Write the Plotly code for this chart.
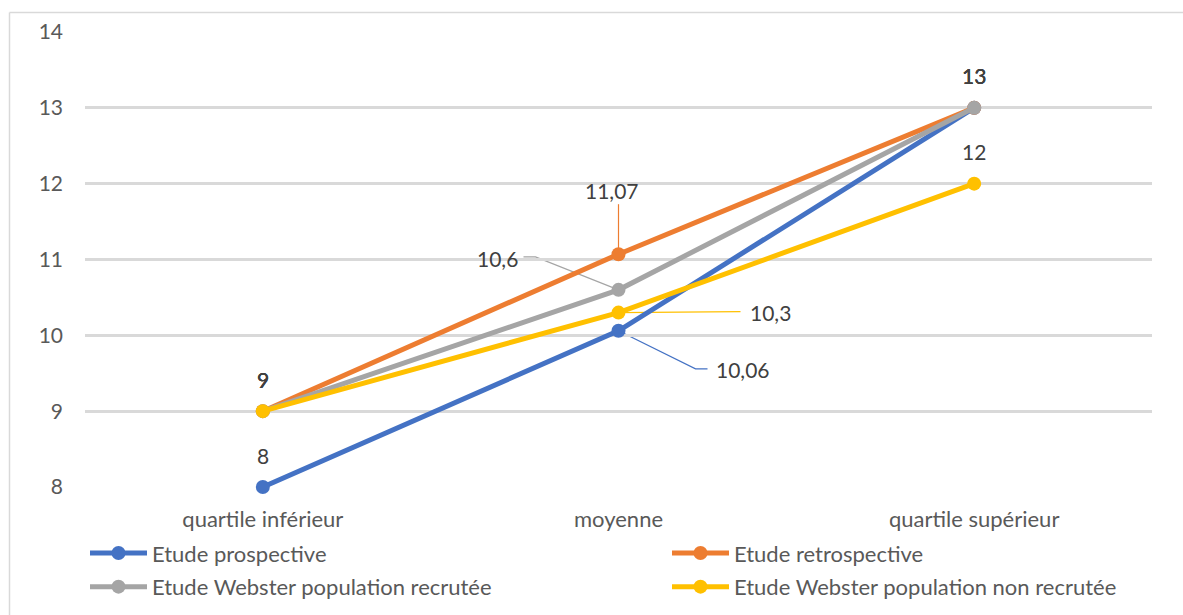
import plotly.graph_objects as go

# Categories and series values
categories = ["quartile inférieur", "moyenne", "quartile supérieur"]
series_names = [
    "Etude prospective",
    "Etude retrospective",
    "Etude Webster population recrutée",
    "Etude Webster population non recrutée",
]
prospective = [8, 10.06, 13]
retrospective = [9, 11.07, 13]
webster_recrutee = [9, 10.6, 13]
webster_non_recrutee = [9, 10.3, 12]
y_ticks = [8, 9, 10, 11, 12, 13, 14]

colors = ["#4472C4", "#ED7D31", "#A5A5A5", "#FFC000"]
values = [prospective, retrospective, webster_recrutee, webster_non_recrutee]
# legend column for each series (two-column legend under the plot)
legend_ids = ["legend", "legend2", "legend", "legend2"]

W, H = 1183, 615
L, R, T, B = 85, 31, 32, 128
FONT = "Lato"
FS = 21

x_idx = list(range(len(categories)))

fig = go.Figure()
for i, (name, vals, col) in enumerate(zip(series_names, values, colors)):
    fig.add_trace(go.Scatter(
        x=x_idx, y=vals, name=name, mode="lines+markers",
        line=dict(color=col, width=5),
        marker=dict(color=col, size=14),
        cliponaxis=False,
        legend=legend_ids[i], legendgroup=f"g{i}",
    ))


def fmt(v):
    return f"{v:g}".replace(".", ",")


# Label placement per series/point: (dx, dy) pixel offsets of the text
# and optional leader path (pixel coordinates relative to the point, y up)
label_layout = {
    0: {0: (0, 32, None), 1: (124, -39, "M0,0 L77,-38 L89,-38"), 2: (0, 32, None)},
    1: {0: (0, 32, None), 1: (-7, 64, "M0,0 L0,50"), 2: (0, 32, None)},
    2: {0: (0, 32, None), 1: (-121, 31, "M0,0 L-83,33 L-95,33"), 2: (0, 32, None)},
    3: {0: (0, 32, None), 1: (152, 0, "M0,0 L122,1"), 2: (0, 32, None)},
}

annotations = []
shapes = []
for si, (vals, col) in enumerate(zip(values, colors)):
    for pi, v in enumerate(vals):
        dx, dy, path = label_layout[si][pi]
        annotations.append(dict(
            x=x_idx[pi], y=v, xref="x", yref="y", text=fmt(v),
            showarrow=False, xshift=dx, yshift=dy,
            font=dict(family=FONT, size=FS, color="#404040"),
        ))
        if path:
            shapes.append(dict(
                type="path", xref="x", yref="y",
                xsizemode="pixel", ysizemode="pixel",
                xanchor=x_idx[pi], yanchor=v, path=path,
                line=dict(color=col, width=1.2), layer="below",
            ))

# Outer chart frame: left and top edges
pw, ph = W - L - R, H - T - B
fx = (9.5 - L) / pw
fy = (ph + T - 12.5) / ph
shapes.append(dict(type="line", xref="paper", yref="paper",
                   x0=fx, x1=fx, y0=fy, y1=-(H - T - ph + 5) / ph,
                   line=dict(color="#d9d9d9", width=1.5)))
shapes.append(dict(type="line", xref="paper", yref="paper",
                   x0=fx, x1=(W + 5 - L) / pw, y0=fy, y1=fy,
                   line=dict(color="#d9d9d9", width=1.5)))

legend_common = dict(
    orientation="v", xanchor="left", y=-0.0994, yanchor="top",
    itemwidth=57, font=dict(family=FONT, size=22, color="#595959"),
    bgcolor="rgba(0,0,0,0)", tracegroupgap=2, itemclick=False,
)

fig.update_layout(
    width=W, height=H,
    margin=dict(l=L, r=R, t=T, b=B, autoexpand=False),
    paper_bgcolor="white", plot_bgcolor="white",
    font=dict(family=FONT, size=FS, color="#595959"),
    showlegend=True,
    legend=dict(x=0.0, **legend_common),
    legend2=dict(x=(672 - 90) / pw, **legend_common),
    xaxis=dict(
        range=[-0.5, 2.5], tickvals=x_idx, ticktext=categories,
        showgrid=False, zeroline=False, showline=False,
        ticks="", ticklabelstandoff=17,
        tickfont=dict(family=FONT, size=22, color="#595959"),
    ),
    yaxis=dict(
        range=[8, 14], tickvals=y_ticks,
        showgrid=True, gridcolor="#d9d9d9", gridwidth=3,
        zeroline=False, showline=False, ticks="",
        ticklabelstandoff=21,
        tickfont=dict(family=FONT, size=FS, color="#595959"),
    ),
    annotations=annotations,
    shapes=shapes,
)

fig.write_html("out.html")
